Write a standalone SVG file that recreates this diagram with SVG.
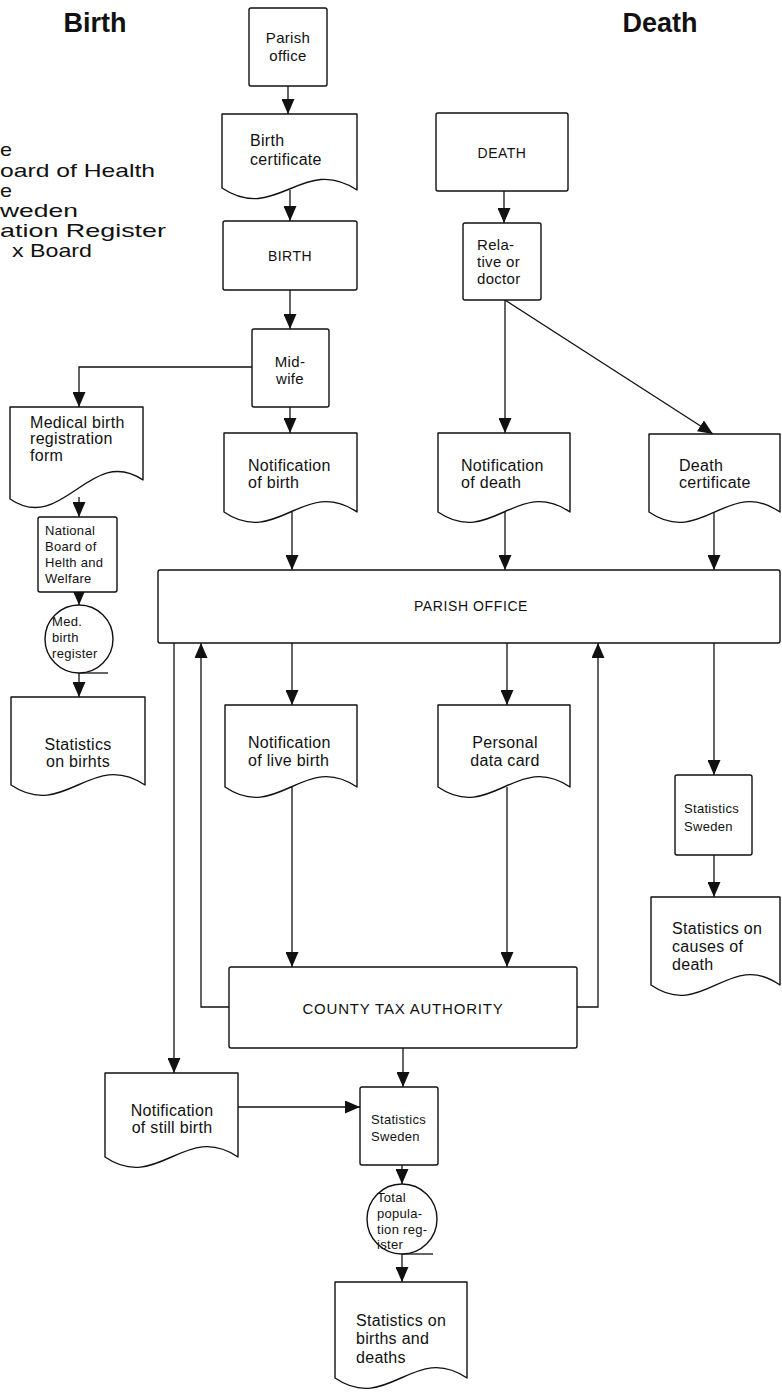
<svg xmlns="http://www.w3.org/2000/svg" width="782" height="1399" viewBox="0 0 782 1399">
<style>
.bg{fill:#fff}
.box{fill:#fff;stroke:#111;stroke-width:1.4;stroke-linejoin:round}
.ln{fill:none;stroke:#111;stroke-width:1.3}
.t{font-family:"Liberation Sans",Arial,sans-serif;font-size:16px;letter-spacing:0.3px;fill:#111}
.r{font-size:15px}
.s{font-size:13px}
.u{font-size:14px;letter-spacing:0.5px}
.c{text-anchor:middle}
.title{font-family:"Liberation Sans",Arial,sans-serif;font-size:27px;font-weight:bold;fill:#111;text-anchor:middle}
.leg{font-family:"Liberation Sans",Arial,sans-serif;font-size:19px;fill:#111}
</style>
<defs>
<marker id="ah" viewBox="0 0 15 13" refX="15" refY="6.5" markerWidth="15" markerHeight="13" markerUnits="userSpaceOnUse" orient="auto">
<path d="M0,0 L15,6.5 L0,13 Z" fill="#111"/>
</marker>
</defs>
<rect class="bg" x="0" y="0" width="782" height="1399"/>

<g id="titles">
<text class="title" x="95" y="32">Birth</text>
<text class="title" x="660" y="32">Death</text>
</g>

<g id="legend">
<text class="leg" x="0" y="156" textLength="12" lengthAdjust="spacingAndGlyphs">e</text>
<text class="leg" x="0" y="177" textLength="155" lengthAdjust="spacingAndGlyphs">oard of Health</text>
<text class="leg" x="0" y="197" textLength="12" lengthAdjust="spacingAndGlyphs">e</text>
<text class="leg" x="0" y="217" textLength="78" lengthAdjust="spacingAndGlyphs">weden</text>
<text class="leg" x="0" y="237" textLength="166" lengthAdjust="spacingAndGlyphs">ation Register</text>
<text class="leg" x="12" y="257" textLength="80" lengthAdjust="spacingAndGlyphs">x Board</text>
</g>

<g id="connectors">
<path class="ln" d="M288,86 V114" marker-end="url(#ah)"/>
<path class="ln" d="M290,190 V221" marker-end="url(#ah)"/>
<path class="ln" d="M290,290 V329" marker-end="url(#ah)"/>
<path class="ln" d="M252,367 H79 V407" marker-end="url(#ah)"/>
<path class="ln" d="M290,407 V433" marker-end="url(#ah)"/>
<path class="ln" d="M292,512 V570" marker-end="url(#ah)"/>
<path class="ln" d="M504,191 V223" marker-end="url(#ah)"/>
<path class="ln" d="M505,300 V433" marker-end="url(#ah)"/>
<path class="ln" d="M505,300 L713,434" marker-end="url(#ah)"/>
<path class="ln" d="M505,512 V570" marker-end="url(#ah)"/>
<path class="ln" d="M714,512 V570" marker-end="url(#ah)"/>
<path class="ln" d="M79,497 V517" marker-end="url(#ah)"/>
<path class="ln" d="M79,592 V605" marker-end="url(#ah)"/>
<path class="ln" d="M79,673 V697" marker-end="url(#ah)"/>
<path class="ln" d="M79,673 H108"/>
<path class="ln" d="M174,643 V1073" marker-end="url(#ah)"/>
<path class="ln" d="M229,1007 H201 V643" marker-end="url(#ah)"/>
<path class="ln" d="M292,643 V705" marker-end="url(#ah)"/>
<path class="ln" d="M507,643 V705" marker-end="url(#ah)"/>
<path class="ln" d="M577,1007 H598 V643" marker-end="url(#ah)"/>
<path class="ln" d="M714,643 V775" marker-end="url(#ah)"/>
<path class="ln" d="M292,787 V967" marker-end="url(#ah)"/>
<path class="ln" d="M507,787 V967" marker-end="url(#ah)"/>
<path class="ln" d="M714,855 V897" marker-end="url(#ah)"/>
<path class="ln" d="M403,1048 V1087" marker-end="url(#ah)"/>
<path class="ln" d="M238,1107 H360" marker-end="url(#ah)"/>
<path class="ln" d="M402,1165 V1184" marker-end="url(#ah)"/>
<path class="ln" d="M402,1254 V1282" marker-end="url(#ah)"/>
<path class="ln" d="M402,1254 H433"/>
</g>

<g id="parish-office-top">
<rect class="box" x="249" y="8" width="78" height="78" rx="2"/>
<text class="t c r" x="288" y="43">Parish</text>
<text class="t c r" x="288" y="61">office</text>
</g>

<g id="birth-certificate">
<path class="box" d="M222,114 H357 V190 C303,154 276,224 222,188 Z"/>
<text class="t" x="250" y="146">Birth</text>
<text class="t" x="250" y="165">certificate</text>
</g>

<g id="birth">
<rect class="box" x="223" y="221" width="134" height="69" rx="2"/>
<text class="t c u" x="290" y="261">BIRTH</text>
</g>

<g id="midwife">
<rect class="box" x="252" y="329" width="77" height="78" rx="2"/>
<text class="t c r" x="290" y="367">Mid-</text>
<text class="t c r" x="290" y="384">wife</text>
</g>

<g id="notification-birth">
<path class="box" d="M224,433 H357 V512 C304,476 277,548 224,512 Z"/>
<text class="t" x="248" y="471">Notification</text>
<text class="t" x="248" y="488">of birth</text>
</g>

<g id="death">
<rect class="box" x="436" y="113" width="132" height="78" rx="2"/>
<text class="t c u" x="502" y="158">DEATH</text>
</g>

<g id="relative">
<rect class="box" x="463" y="223" width="78" height="77" rx="2"/>
<text class="t r" x="477" y="250">Rela-</text>
<text class="t r" x="477" y="267">tive or</text>
<text class="t r" x="477" y="284">doctor</text>
</g>

<g id="notification-death">
<path class="box" d="M438,433 H570 V512 C517,476 491,548 438,512 Z"/>
<text class="t" x="461" y="471">Notification</text>
<text class="t" x="461" y="488">of death</text>
</g>

<g id="death-certificate">
<path class="box" d="M649,434 H780 V512 C728,476 702,548 649,512 Z"/>
<text class="t" x="679" y="471">Death</text>
<text class="t" x="679" y="488">certificate</text>
</g>

<g id="medical-form">
<path class="box" d="M10,407 H143 V480 C90,444 63,535 10,499 Z"/>
<text class="t" x="30" y="428">Medical birth</text>
<text class="t" x="30" y="444">registration</text>
<text class="t" x="30" y="461">form</text>
</g>

<g id="national-board">
<rect class="box" x="38" y="517" width="79" height="75" rx="2"/>
<text class="t s" x="45" y="535">National</text>
<text class="t s" x="45" y="551">Board of</text>
<text class="t s" x="45" y="567">Helth and</text>
<text class="t s" x="45" y="583">Welfare</text>
</g>

<g id="med-birth-register">
<circle class="box" cx="79" cy="639" r="34"/>
<text class="t s" x="52" y="626">Med.</text>
<text class="t s" x="52" y="642">birth</text>
<text class="t s" x="52" y="658">register</text>
</g>

<g id="statistics-births">
<path class="box" d="M11,697 H145 V785 C91,749 65,821 11,785 Z"/>
<text class="t c" x="78" y="750">Statistics</text>
<text class="t c" x="78" y="767">on birhts</text>
</g>

<g id="parish-office">
<rect class="box" x="158" y="570" width="622" height="73" rx="2"/>
<text class="t c" x="471" y="611" style="font-size:14px;letter-spacing:0.6px">PARISH OFFICE</text>
</g>

<g id="notification-live-birth">
<path class="box" d="M225,705 H357 V787 C304,751 278,823 225,787 Z"/>
<text class="t" x="248" y="748">Notification</text>
<text class="t" x="248" y="766">of live birth</text>
</g>

<g id="personal-data-card">
<path class="box" d="M438,705 H570 V787 C517,751 491,823 438,787 Z"/>
<text class="t c" x="505" y="748">Personal</text>
<text class="t c" x="505" y="766">data card</text>
</g>

<g id="statistics-sweden-right">
<rect class="box" x="675" y="775" width="77" height="80" rx="2"/>
<text class="t s" x="684" y="813">Statistics</text>
<text class="t s" x="684" y="831">Sweden</text>
</g>

<g id="statistics-causes">
<path class="box" d="M651,897 H780 V985 C729,949 703,1021 651,985 Z"/>
<text class="t" x="672" y="934">Statistics on</text>
<text class="t" x="672" y="952">causes of</text>
<text class="t" x="672" y="970">death</text>
</g>

<g id="county-tax">
<rect class="box" x="229" y="967" width="348" height="81" rx="2"/>
<text class="t c" x="403" y="1014" style="font-size:15px;letter-spacing:0.8px">COUNTY TAX AUTHORITY</text>
</g>

<g id="notification-still-birth">
<path class="box" d="M105,1073 H238 V1157 C185,1121 158,1193 105,1157 Z"/>
<text class="t c" x="172" y="1116">Notification</text>
<text class="t c" x="172" y="1133">of still birth</text>
</g>

<g id="statistics-sweden-lower">
<rect class="box" x="360" y="1087" width="78" height="78" rx="2"/>
<text class="t s" x="371" y="1124">Statistics</text>
<text class="t s" x="371" y="1141">Sweden</text>
</g>

<g id="total-population-register">
<circle class="box" cx="402" cy="1219" r="35"/>
<text class="t s" x="377" y="1202">Total</text>
<text class="t s" x="377" y="1218">popula-</text>
<text class="t s" x="377" y="1234">tion reg-</text>
<text class="t s" x="377" y="1249">ister</text>
</g>

<g id="statistics-births-deaths">
<path class="box" d="M335,1282 H467 V1378 C414,1342 388,1414 335,1378 Z"/>
<text class="t" x="356" y="1326">Statistics on</text>
<text class="t" x="356" y="1344">births and</text>
<text class="t" x="356" y="1363">deaths</text>
</g>
</svg>
